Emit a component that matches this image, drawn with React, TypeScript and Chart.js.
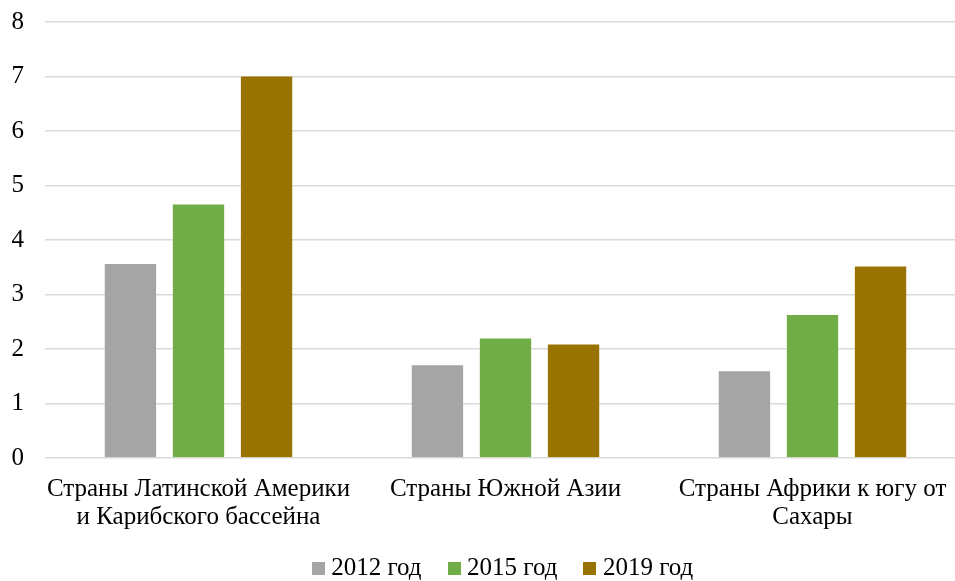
import React, { useEffect, useRef } from 'react';
import { Chart, registerables, CategoryScale } from 'chart.js';

class NoClipCategoryScale extends CategoryScale {
  static id = 'noclipCategory';
  _computeLabelArea() {
    return undefined as any;
  }
}

Chart.register(...registerables, NoClipCategoryScale);

const categories: string[][] = [
  ['Страны Латинской Америки', 'и Карибского бассейна'],
  ['Страны Южной Азии'],
  ['Страны Африки к югу от', 'Сахары'],
];
const seriesNames = ['2012 год', '2015 год', '2019 год'];
const values2012 = [3.58, 1.72, 1.61];
const values2015 = [4.67, 2.21, 2.64];
const values2019 = [7.02, 2.1, 3.53];
const seriesColors = ['#A5A5A5', '#70AD47', '#997300'];
const yMin = 0;
const yMax = 8;
const yStep = 1;

const FONT = "'Liberation Serif', 'Times New Roman', serif";

function makeSwatch(color: string): HTMLCanvasElement {
  const c = document.createElement('canvas');
  c.width = 13;
  c.height = 13;
  const ctx = c.getContext('2d')!;
  ctx.fillStyle = color;
  ctx.fillRect(0, 0, 13, 13);
  return c;
}

export default function App() {
  const ref = useRef<HTMLCanvasElement | null>(null);

  useEffect(() => {
    if (!ref.current) return;
    const allValues = [values2012, values2015, values2019];
    const swatches = seriesColors.map(makeSwatch);
    const chart = new Chart(ref.current, {
      type: 'bar',
      data: {
        labels: categories,
        datasets: seriesNames.map((name, i) => ({
          label: name,
          data: allValues[i],
          backgroundColor: seriesColors[i],
          borderColor: 'rgba(255,255,255,0.35)',
          borderWidth: 1,
          categoryPercentage: 0.665,
          barPercentage: 0.784,
        })),
      },
      options: {
        animation: false,
        responsive: true,
        maintainAspectRatio: false,
        layout: { padding: { top: 22, right: 0, bottom: 0, left: 0 } },
        plugins: {
          tooltip: { enabled: false },
          legend: {
            position: 'bottom',
            fullSize: false,
            labels: {
              font: { family: FONT, size: 25 },
              color: '#000',
              usePointStyle: true,
              pointStyleWidth: 1,
              boxHeight: 13,
              padding: 32,
              generateLabels: () =>
                seriesNames.map((name, i) => ({
                  text: name,
                  fillStyle: seriesColors[i],
                  strokeStyle: seriesColors[i],
                  lineWidth: 0,
                  hidden: false,
                  datasetIndex: i,
                  pointStyle: swatches[i],
                  fontColor: '#000',
                })),
            },
          },
        },
        scales: {
          x: {
            type: 'noclipCategory' as any,
            grid: { display: false, drawTicks: false },
            border: { display: false },
            ticks: {
              font: { family: FONT, size: 25, lineHeight: 1.12 },
              color: '#000',
              maxRotation: 0,
              autoSkip: false,
              padding: 17,
            },
            afterFit: (scale: any) => {
              scale.height = 66;
              scale.paddingLeft = 0;
              scale.paddingRight = 0;
            },
          },
          y: {
            min: yMin,
            max: yMax,
            border: { display: false },
            grid: { color: '#D9D9D9', lineWidth: 1.5, drawTicks: false },
            ticks: {
              stepSize: yStep,
              font: { family: FONT, size: 25 },
              color: '#000',
              padding: 21,
            },
            afterFit: (scale: any) => {
              scale.width = 45;
              scale.paddingTop = 0;
              scale.paddingBottom = 0;
            },
          },
        },
      },
    });
    return () => chart.destroy();
  }, []);

  return (
    <div style={{ position: 'fixed', left: 0, top: 0, width: 955, height: 581, overflow: 'hidden', background: '#fff' }}>
      <div style={{ position: 'relative', width: 966, height: 591 }}>
        <canvas ref={ref} />
      </div>
    </div>
  );
}
